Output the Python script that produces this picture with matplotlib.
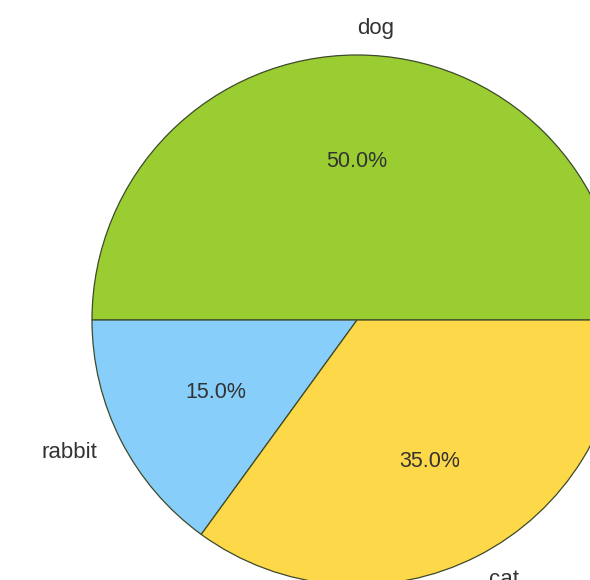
import matplotlib
matplotlib.use("Agg")
import matplotlib.pyplot as plt

# data
pets = ["dog", "rabbit", "cat"]
shares = [50, 15, 35]
colours = ["#9acd32", "#87cefa", "#fdd848"]

plt.rcParams['font.family'] = ['Liberation Sans', 'DejaVu Sans']

fig = plt.figure(figsize=(5.9, 5.8), dpi=100)
ax = fig.add_axes([0, 0, 1, 1])

wedges, texts, autotexts = ax.pie(shares, labels=pets, colors=colours,
                                  autopct='%1.1f%%', startangle=0,
                                  wedgeprops={'edgecolor': '#3d4a2a', 'linewidth': 0.9},
                                  textprops={'color': '#333333'})
for t in texts:
    t.set_fontsize(16)
texts[0].set_ha('left')  # the old matplotlib put "dog" left-aligned at the top
for t in autotexts:
    t.set_fontsize(15.5)

# the original picture is a crop, pie runs off the right and bottom edges
ax.set_xlim(-1.347, 0.879)
ax.set_ylim(-0.981, 1.2075)
ax.set_aspect('equal')
ax.axis('off')

fig.savefig("out.png", dpi=100)
